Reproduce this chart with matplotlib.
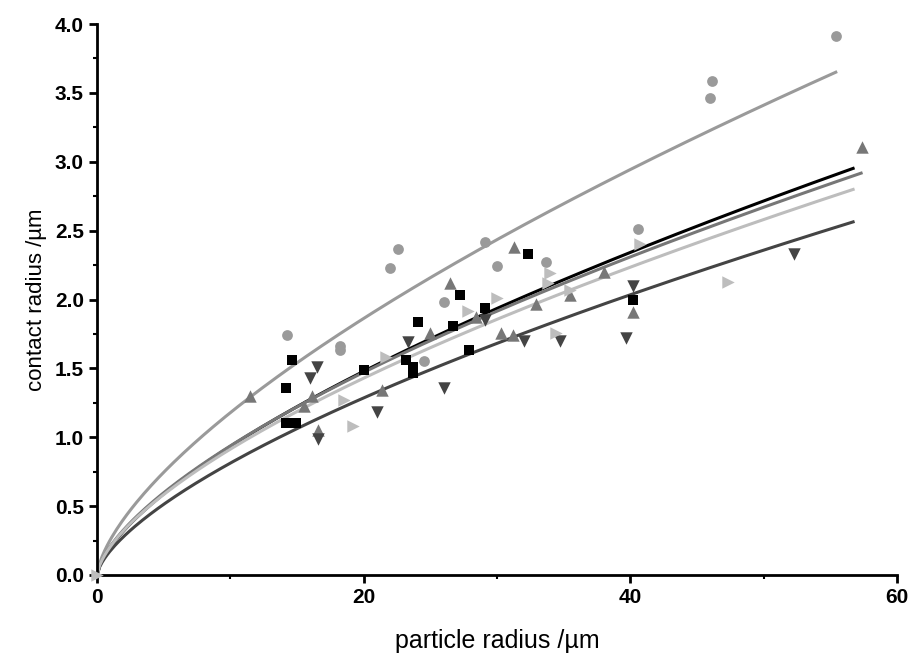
import matplotlib
matplotlib.use("Agg")
import matplotlib.pyplot as plt
import numpy as np
from matplotlib.ticker import MultipleLocator

plt.rcParams['font.family'] = ['Liberation Sans', 'DejaVu Sans']

# black squares
sq_x = [14.2, 14.6, 14.2, 14.9, 20.0, 23.2, 23.7, 23.7, 24.1, 26.7, 27.2, 27.9, 29.1, 32.3, 40.2]
sq_y = [1.36, 1.56, 1.10, 1.10, 1.49, 1.56, 1.51, 1.47, 1.84, 1.81, 2.03, 1.63, 1.94, 2.33, 2.00]

# gray circles
ci_x = [14.25, 18.2, 18.2, 22.0, 22.6, 24.5, 26.0, 29.1, 30.0, 33.7, 40.6, 46.0, 46.1, 55.4]
ci_y = [1.74, 1.63, 1.66, 2.23, 2.37, 1.55, 1.98, 2.42, 2.24, 2.27, 2.51, 3.46, 3.59, 3.91]

# up triangles
up_x = [11.5, 15.5, 16.1, 16.6, 21.4, 25.0, 26.5, 28.4, 30.3, 31.2, 31.3, 32.9, 35.5, 38.0, 40.2, 57.4]
up_y = [1.30, 1.23, 1.30, 1.05, 1.34, 1.76, 2.12, 1.87, 1.76, 1.74, 2.38, 1.97, 2.03, 2.20, 1.91, 3.11]

# down triangles
dn_x = [16.0, 16.5, 16.6, 21.0, 23.3, 26.0, 29.1, 32.0, 34.7, 39.7, 40.2, 52.3]
dn_y = [1.43, 1.51, 0.99, 1.18, 1.69, 1.36, 1.85, 1.70, 1.70, 1.72, 2.10, 2.33]

# right triangles
rt_x = [0.0, 18.5, 19.2, 21.7, 27.8, 30.0, 33.8, 34.0, 34.4, 35.5, 40.7, 47.3]
rt_y = [0.0, 1.27, 1.08, 1.58, 1.92, 2.01, 2.12, 2.19, 1.76, 2.07, 2.40, 2.13]

# power-law fits y = a * x^b
fit_a = [0.203, 0.258, 0.210, 0.177, 0.207]
fit_b = [0.663, 0.660, 0.650, 0.662, 0.645]
fit_xmax = [56.7, 55.4, 57.3, 56.7, 56.7]

colors = ['#000000', '#9a9a9a', '#777777', '#444444', '#bdbdbd']
markers = ['s', 'o', '^', 'v', '>']
msizes = [50, 60, 80, 80, 80]
xs = [sq_x, ci_x, up_x, dn_x, rt_x]
ys = [sq_y, ci_y, up_y, dn_y, rt_y]

fig = plt.figure(figsize=(9.08, 6.59), dpi=100)
ax = fig.add_axes([0.107, 0.1275, 0.881, 0.836])

for i in range(5):
    ax.scatter(xs[i], ys[i], marker=markers[i], color=colors[i], s=msizes[i], linewidths=0, zorder=3, clip_on=False)

for i in range(5):
    xx = np.linspace(0, fit_xmax[i], 300)
    ax.plot(xx, fit_a[i] * xx ** fit_b[i], color=colors[i], lw=2.2, zorder=2)

ax.set_xlim(0, 60)
ax.set_ylim(0, 4.0)
ax.xaxis.set_major_locator(MultipleLocator(20))
ax.xaxis.set_minor_locator(MultipleLocator(10))
ax.yaxis.set_major_locator(MultipleLocator(0.5))
ax.yaxis.set_minor_locator(MultipleLocator(0.25))
ax.yaxis.set_major_formatter(matplotlib.ticker.FormatStrFormatter('%.1f'))

ax.spines['top'].set_visible(False)
ax.spines['right'].set_visible(False)
ax.spines['left'].set_linewidth(2)
ax.spines['bottom'].set_linewidth(2)
ax.tick_params(which='major', length=6, width=2, labelsize=15)
ax.tick_params(which='minor', length=3, width=1.5)
for lab in ax.get_xticklabels() + ax.get_yticklabels():
    lab.set_fontweight('bold')

ax.set_xlabel('particle radius /µm', fontsize=18, labelpad=16)
ax.set_ylabel('contact radius /µm', fontsize=16, labelpad=6)

fig.savefig('out.png', dpi=100)
